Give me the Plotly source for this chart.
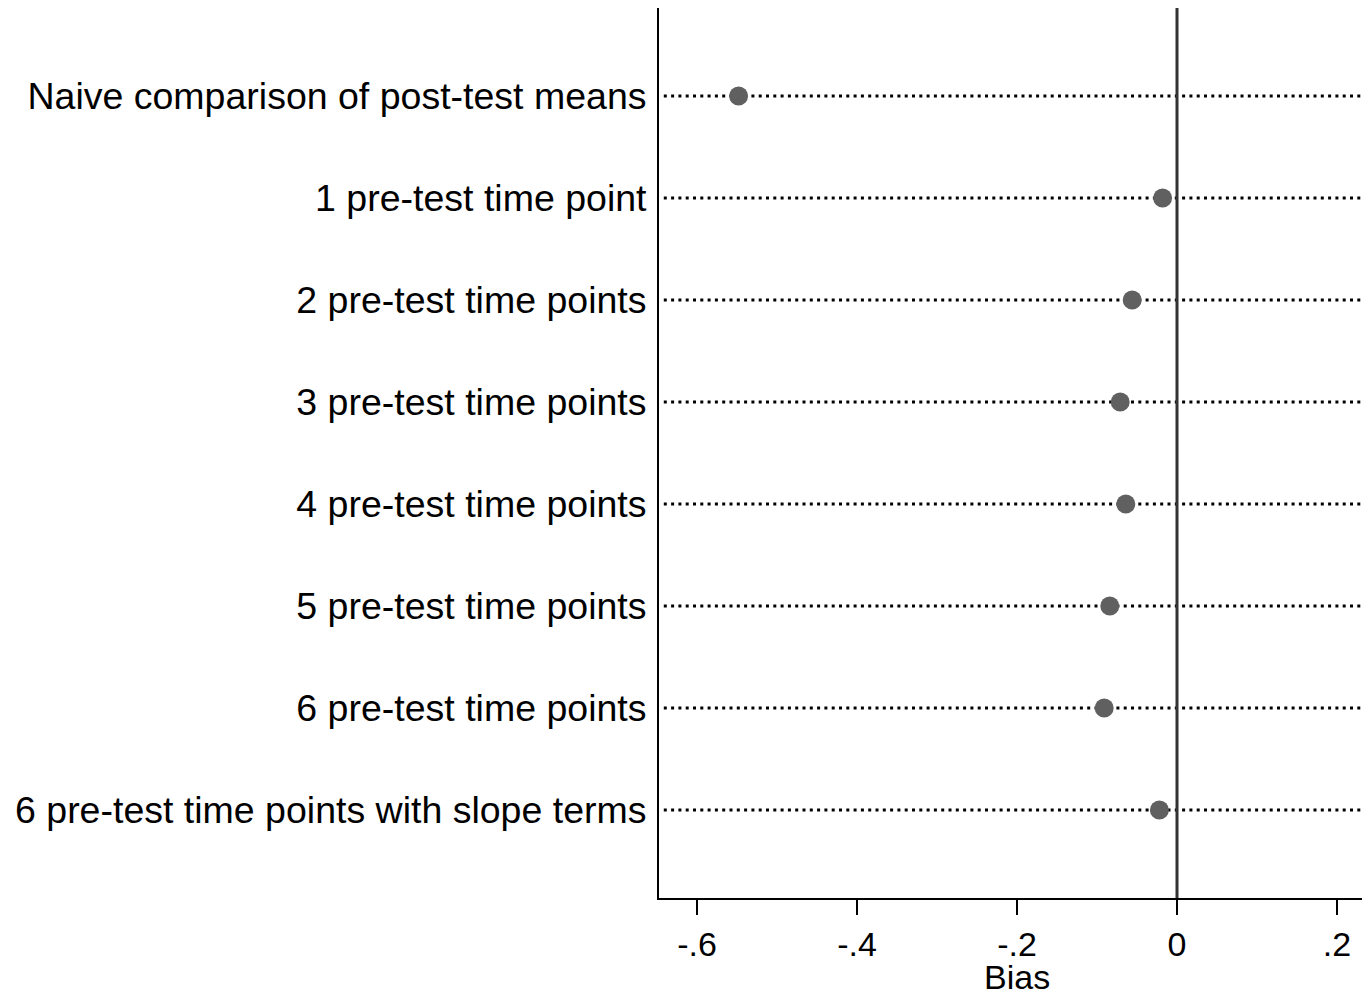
import plotly.graph_objects as go

# Model specifications and their estimated bias
labels = [
    "Naive comparison of post-test means",
    "1 pre-test time point",
    "2 pre-test time points",
    "3 pre-test time points",
    "4 pre-test time points",
    "5 pre-test time points",
    "6 pre-test time points",
    "6 pre-test time points with slope terms",
]
bias = [-0.548, -0.018, -0.056, -0.071, -0.064, -0.084, -0.091, -0.022]
x_ticks = [-0.6, -0.4, -0.2, 0, 0.2]
x_tick_text = ["-.6", "-.4", "-.2", "0", ".2"]

X_MIN, X_MAX = -0.6475, 0.23125
positions = list(range(1, len(labels) + 1))

FONT = "Liberation Sans, Arial, sans-serif"

fig = go.Figure()

# Dotted guide line for each specification
for pos in positions:
    fig.add_trace(go.Scatter(
        x=[X_MIN + 0.006, X_MAX], y=[pos, pos], mode="lines",
        line=dict(color="black", width=3, dash="3px,4.3px"),
        hoverinfo="skip", showlegend=False,
    ))

# Reference line at zero bias
fig.add_trace(go.Scatter(
    x=[0, 0], y=[0.137, 8.863], mode="lines",
    line=dict(color="#333333", width=3),
    hoverinfo="skip", showlegend=False,
))

# Bias estimates
fig.add_trace(go.Scatter(
    x=bias, y=positions, mode="markers",
    marker=dict(color="#606060", size=19, line=dict(width=0)),
    showlegend=False,
))

fig.update_layout(
    width=1362, height=996,
    margin=dict(l=659, r=0, t=8, b=98),
    paper_bgcolor="white", plot_bgcolor="white",
    font=dict(family=FONT, color="black"),
    xaxis=dict(
        range=[X_MIN, X_MAX], tickvals=x_ticks, ticktext=x_tick_text,
        ticks="outside", ticklen=15, tickwidth=1.5, tickcolor="black",
        tickfont=dict(size=34, family=FONT),
        showline=True, linecolor="black", linewidth=2,
        showgrid=False, zeroline=False,
    ),
    yaxis=dict(
        range=[8.863, 0.137], tickvals=positions, ticktext=labels,
        ticks="", tickfont=dict(size=37.5, family=FONT),
        ticklabelstandoff=3,
        showline=True, linecolor="black", linewidth=2,
        showgrid=False, zeroline=False,
    ),
    annotations=[dict(
        text="Bias", x=-0.2, xref="x", y=0, yref="paper",
        yanchor="bottom", yshift=-100, showarrow=False,
        font=dict(size=34, family=FONT, color="black"),
    )],
)

fig.write_html("out.html")
